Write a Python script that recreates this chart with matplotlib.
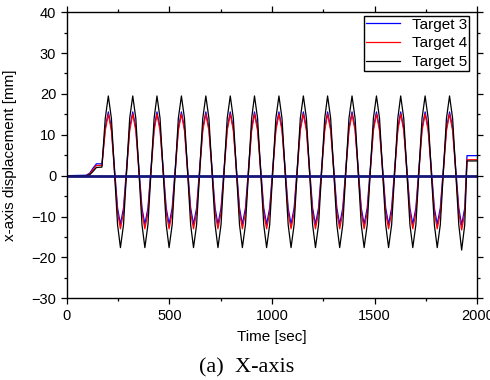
import matplotlib
matplotlib.use("Agg")
import matplotlib.pyplot as plt
from matplotlib.ticker import MultipleLocator

plt.rcParams['font.family'] = ['Liberation Sans', 'DejaVu Sans']

# sample times [sec] (start ramp, 15 swings, end step)
t = [0, 95, 112, 128, 145, 172, 188,
     203, 218, 233, 248, 262, 277, 292, 307,
     322, 337, 352, 367, 381, 396, 411, 426,
     440, 455, 470, 485, 499, 514, 529, 544,
     559, 574, 589, 604, 618, 633, 648, 663,
     678, 693, 708, 723, 737, 752, 767, 782,
     797, 812, 827, 842, 856, 871, 886, 901,
     915, 930, 945, 960, 974, 989, 1004, 1019,
     1034, 1049, 1064, 1079, 1093, 1108, 1123, 1138,
     1153, 1168, 1183, 1198, 1212, 1227, 1242, 1257,
     1271, 1286, 1301, 1316, 1330, 1345, 1360, 1375,
     1390, 1405, 1420, 1435, 1449, 1464, 1479, 1494,
     1509, 1524, 1539, 1554, 1568, 1583, 1598, 1613,
     1627, 1642, 1657, 1672, 1686, 1701, 1716, 1731,
     1746, 1761, 1776, 1791, 1805, 1820, 1835, 1850,
     1865, 1880, 1895, 1910, 1924, 1939, 1950, 2000]

target3 = [0, 0.1, 0.6, 1.8, 2.9, 2.9, 11.6,
           15.6, 11.6, 1.9, -7.9, -11.9, -7.9, 1.9, 11.6,
           15.6, 11.6, 1.9, -7.9, -11.9, -7.9, 1.9, 11.6,
           15.6, 11.6, 1.9, -7.9, -11.9, -7.9, 1.9, 11.6,
           15.6, 11.6, 1.9, -7.9, -11.9, -7.9, 1.9, 11.6,
           15.6, 11.6, 1.9, -7.9, -11.9, -7.9, 1.9, 11.6,
           15.6, 11.6, 1.9, -7.9, -11.9, -7.9, 1.9, 11.6,
           15.6, 11.6, 1.9, -7.9, -11.9, -7.9, 1.9, 11.6,
           15.6, 11.6, 1.9, -7.9, -11.9, -7.9, 1.9, 11.6,
           15.6, 11.6, 1.9, -7.9, -11.9, -7.9, 1.9, 11.6,
           15.6, 11.6, 1.9, -7.9, -11.9, -7.9, 1.9, 11.6,
           15.6, 11.6, 1.9, -7.9, -11.9, -7.9, 1.9, 11.6,
           15.6, 11.6, 1.9, -7.9, -11.9, -7.9, 1.9, 11.6,
           15.6, 11.6, 1.9, -7.9, -11.9, -7.9, 1.9, 11.6,
           15.6, 11.6, 1.9, -7.9, -11.9, -7.9, 1.9, 11.6,
           15.6, 11.6, 1.9, -7.9, -12.1, -7.9, 4.9, 4.9]

target4 = [0, 0.0, 0.4, 1.4, 2.5, 2.5, 11.0,
           15.1, 11.0, 1.0, -9.0, -13.0, -9.0, 1.0, 11.0,
           15.1, 11.0, 1.0, -9.0, -13.0, -9.0, 1.0, 11.0,
           15.1, 11.0, 1.0, -9.0, -13.0, -9.0, 1.0, 11.0,
           15.1, 11.0, 1.0, -9.0, -13.0, -9.0, 1.0, 11.0,
           15.1, 11.0, 1.0, -9.0, -13.0, -9.0, 1.0, 11.0,
           15.1, 11.0, 1.0, -9.0, -13.0, -9.0, 1.0, 11.0,
           15.1, 11.0, 1.0, -9.0, -13.0, -9.0, 1.0, 11.0,
           15.1, 11.0, 1.0, -9.0, -13.0, -9.0, 1.0, 11.0,
           15.1, 11.0, 1.0, -9.0, -13.0, -9.0, 1.0, 11.0,
           15.1, 11.0, 1.0, -9.0, -13.0, -9.0, 1.0, 11.0,
           15.1, 11.0, 1.0, -9.0, -13.0, -9.0, 1.0, 11.0,
           15.1, 11.0, 1.0, -9.0, -13.0, -9.0, 1.0, 11.0,
           15.1, 11.0, 1.0, -9.0, -13.0, -9.0, 1.0, 11.0,
           15.1, 11.0, 1.0, -9.0, -13.0, -9.0, 1.0, 11.0,
           15.1, 11.0, 1.0, -9.0, -13.3, -9.0, 3.9, 3.9]

target5 = [0, 0.0, 0.2, 1.0, 2.0, 2.1, 14.0,
           19.5, 14.0, 1.0, -12.0, -17.6, -12.0, 1.0, 14.0,
           19.5, 14.0, 1.0, -12.0, -17.6, -12.0, 1.0, 14.0,
           19.5, 14.0, 1.0, -12.0, -17.6, -12.0, 1.0, 14.0,
           19.5, 14.0, 1.0, -12.0, -17.6, -12.0, 1.0, 14.0,
           19.5, 14.0, 1.0, -12.0, -17.6, -12.0, 1.0, 14.0,
           19.5, 14.0, 1.0, -12.0, -17.6, -12.0, 1.0, 14.0,
           19.5, 14.0, 1.0, -12.0, -17.6, -12.0, 1.0, 14.0,
           19.5, 14.0, 1.0, -12.0, -17.6, -12.0, 1.0, 14.0,
           19.5, 14.0, 1.0, -12.0, -17.6, -12.0, 1.0, 14.0,
           19.5, 14.0, 1.0, -12.0, -17.6, -12.0, 1.0, 14.0,
           19.5, 14.0, 1.0, -12.0, -17.6, -12.0, 1.0, 14.0,
           19.5, 14.0, 1.0, -12.0, -17.6, -12.0, 1.0, 14.0,
           19.5, 14.0, 1.0, -12.0, -17.6, -12.0, 1.0, 14.0,
           19.5, 14.0, 1.0, -12.0, -17.6, -12.0, 1.0, 14.0,
           19.5, 14.0, 1.0, -12.0, -18.2, -12.0, 3.6, 3.6]

# reference line near zero (not in legend)
ref_t = [0, 2000]
ref_y = [0, 0]

fig = plt.figure(figsize=(4.9, 3.8), dpi=100)
ax = fig.add_axes([0.136, 0.215, 0.838, 0.753])

ax.plot(t, target3, color='#0000ff', lw=0.9, label='Target 3')
ax.plot(t, target4, color='#ff0000', lw=0.9, label='Target 4')
ax.plot(t, target5, color='black', lw=0.9, label='Target 5')
ax.plot(ref_t, ref_y, color='#14147a', lw=2.0)

ax.set_xlim(0, 2000)
ax.set_ylim(-30, 40)
ax.xaxis.set_major_locator(MultipleLocator(500))
ax.xaxis.set_minor_locator(MultipleLocator(250))
ax.yaxis.set_major_locator(MultipleLocator(10))
ax.yaxis.set_minor_locator(MultipleLocator(5))
ax.tick_params(which='both', direction='out', top=True, right=True,
               labeltop=False, labelright=False, labelsize=10.5, width=0.9)
ax.tick_params(which='major', length=4)
ax.tick_params(which='minor', length=2.5)
for s in ax.spines.values():
    s.set_linewidth(1.0)

ax.set_xlabel('Time [sec]', fontsize=11, labelpad=5)
ax.set_ylabel('x-axis displacement [mm]', fontsize=11, labelpad=10)

leg = ax.legend(loc='upper right', bbox_to_anchor=(0.98, 0.987), fontsize=11,
                frameon=True, fancybox=False, framealpha=1, edgecolor='black',
                handlelength=2.2, labelspacing=0.3, borderpad=0.12,
                handletextpad=0.8, borderaxespad=0.0)
leg.get_frame().set_linewidth(1.0)

fig.text(247 / 490, 1 - 368 / 380, '(a)  X-axis', ha='center', va='center',
         fontsize=16, family=['Liberation Serif', 'DejaVu Serif'])

fig.savefig('out.png', dpi=100)
